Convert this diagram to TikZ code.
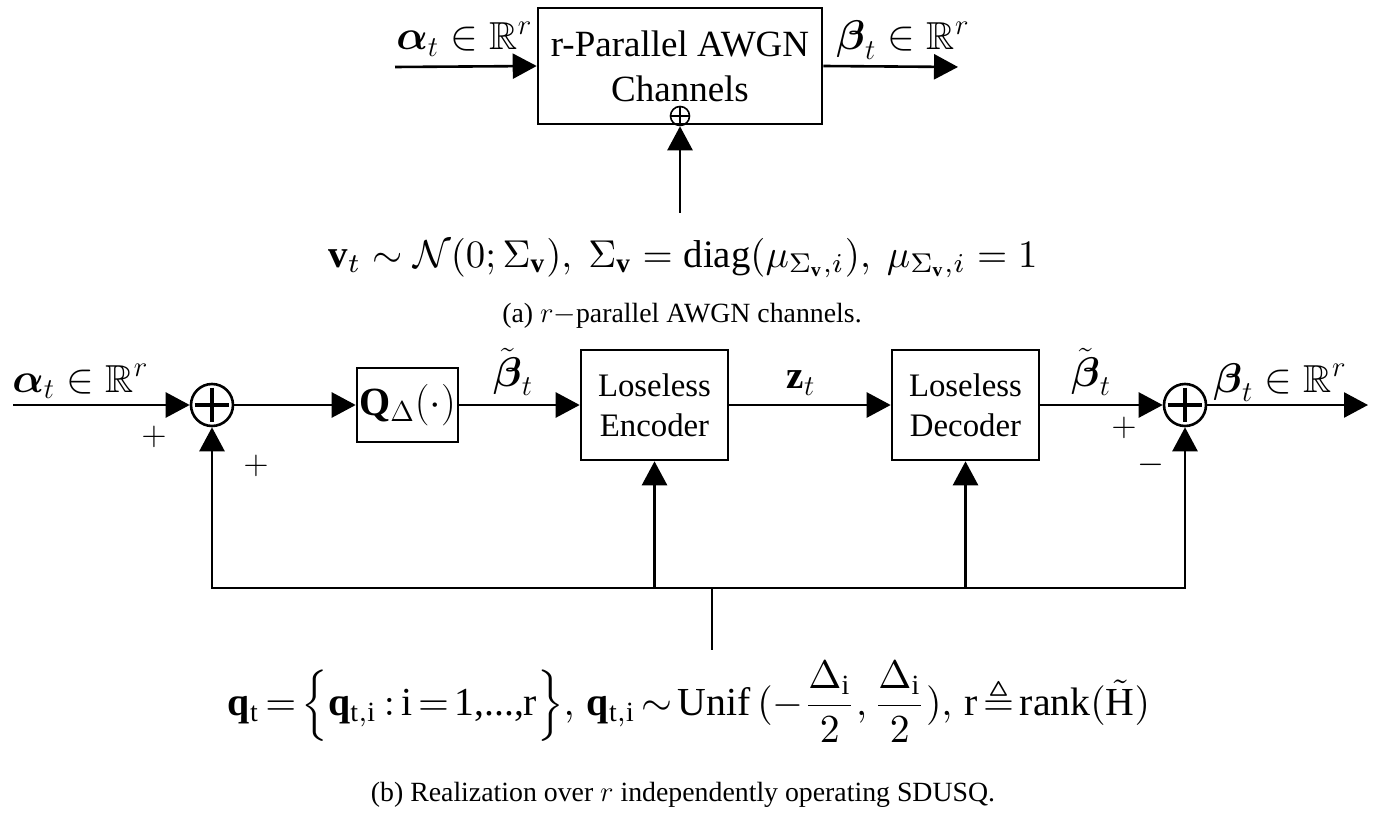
\documentclass[tikz,border=0pt]{standalone}
\usepackage{amsmath,amssymb}
\usepackage{graphicx}
\usepackage{fontspec}
\setmainfont{Liberation Serif}
\usetikzlibrary{arrows.meta}
\begin{document}
\begin{tikzpicture}[x=0.5pt,y=-0.5pt,
  line width=1.3pt,
  arr/.style={-{Triangle[length=12pt,width=12.5pt]}},
  blk/.style={draw,line width=1.3pt,inner sep=0pt,align=center,font=\fontsize{16.4}{20}\selectfont},
  sumc/.style={draw,circle,line width=1.3pt,minimum size=21pt,inner sep=0pt},
  lbl/.style={inner sep=0pt,font=\fontsize{19.5}{23}\selectfont},
  sgn/.style={inner sep=0pt,font=\fontsize{17}{20}\selectfont},
  captxt/.style={inner sep=0pt,font=\fontsize{13.9}{16}\selectfont}]
\useasboundingbox (0,0) rectangle (1374,818);
% ---------- (a) ----------
\node[blk,minimum width=142pt,minimum height=58pt,font=\fontsize{18.5}{22.5}\selectfont] (ch) at (680,66) {r-Parallel AWGN\\Channels};
\node[draw,circle,minimum size=9.5pt,inner sep=0pt,line width=0.8pt] (pl) at (680,116) {};
\draw[line width=0.8pt] (pl.north) -- (pl.south) (pl.west) -- (pl.east);
\coordinate (vtop) at (680,213);
\draw[arr] (vtop) -- (pl.south);
\coordinate (ain) at (395,67);
\coordinate (bout) at (958,67);
\draw[arr] (ain) -- (ch.west);
\draw[arr] (ch.east) -- (bout);
\node[lbl,anchor=base west] (la) at (395,50) {$\boldsymbol{\alpha}_t\in\mathbb{R}^r$};
\node[lbl,anchor=base west] (lb) at (835,50) {$\boldsymbol{\beta}_t\in\mathbb{R}^r$};
\node[inner sep=0pt] (fa) at (683,258) {\resizebox{354.5pt}{!}{$\mathbf{v}_t\sim\mathcal{N}(0;\Sigma_{\mathbf v}),\ \Sigma_{\mathbf v}=\mathrm{diag}(\mu_{\Sigma_{\mathbf v},i}),\ \mu_{\Sigma_{\mathbf v},i}=1$}};
\node[captxt] (ca) at (682,316) {(a) $r-$parallel AWGN channels.};
% ---------- (b) ----------
\coordinate (in) at (13,405);
\coordinate (out) at (1368,405);
\node[sumc] (s1) at (212,405) {};
\node[sumc] (s2) at (1185,405) {};
\draw[line width=1.7pt,shorten >=2.5pt,shorten <=2.5pt] (s1.north) -- (s1.south);
\draw[line width=1.7pt,shorten >=2.5pt,shorten <=2.5pt] (s1.west) -- (s1.east);
\draw[line width=1.7pt,shorten >=2.5pt,shorten <=2.5pt] (s2.north) -- (s2.south);
\draw[line width=1.7pt,shorten >=2.5pt,shorten <=2.5pt] (s2.west) -- (s2.east);
\node[blk,minimum width=50.5pt,minimum height=37pt,font=\fontsize{20}{24}\selectfont] (q) at (407.5,405) {$\mathbf{Q}_{\Delta}(\cdot)$};
\node[blk,minimum width=73.5pt,minimum height=55pt] (enc) at (654.5,405) {Loseless\\Encoder};
\node[blk,minimum width=73.5pt,minimum height=55pt] (dec) at (965.5,405) {Loseless\\Decoder};
\draw[arr] (in) -- (s1);
\draw[arr] (s1) -- (q);
\draw[arr] (q) -- (enc);
\draw[arr] (enc) -- (dec);
\draw[arr] (dec) -- (s2);
\draw[arr] (s2) -- (out);
\coordinate (fbE) at (654.5,588);
\coordinate (fbD) at (965.5,588);
\coordinate (stT) at (712,588);
\coordinate (stB) at (712,650);
\draw[arr] (stT) -| (s1);
\draw[arr] (stT) -| (s2);
\draw[arr] (fbE) -- (enc);
\draw[arr] (fbD) -- (dec);
\draw[line width=1pt] (stT) -- (stB);
\node[lbl,anchor=base west] (la2) at (11,392) {$\boldsymbol{\alpha}_t\in\mathbb{R}^r$};
\node[lbl] (bt1) at (513,372) {$\tilde{\boldsymbol{\beta}}_t$};
\node[lbl] (lz) at (801,383) {$\mathbf{z}_t$};
\node[lbl] (bt2) at (1091,372) {$\tilde{\boldsymbol{\beta}}_t$};
\node[lbl,anchor=base west] (lb2) at (1212,392) {$\boldsymbol{\beta}_t\in\mathbb{R}^r$};
\node[sgn] (p1) at (154,437) {$+$};
\node[sgn] (p2) at (256,466) {$+$};
\node[sgn] (p3) at (1124,428) {$+$};
\node[sgn] (m1) at (1151,465) {$-$};
\node[inner sep=0pt] (fb) at (689,702) {\resizebox{461pt}{!}{\thickmuskip=2.5mu plus 1mu\medmuskip=2mu$\mathbf{q}_{\mathrm t}=\Big\{\mathbf{q}_{\mathrm{t,i}}\,{:}\,\mathrm{i}=\text{1,...,r}\Big\},\;\mathbf{q}_{\mathrm{t,i}}\sim\mathrm{Unif}\,(-\dfrac{\Delta_{\mathrm i}}{2},\dfrac{\Delta_{\mathrm i}}{2}),\;\mathrm{r}\triangleq\mathrm{rank}(\tilde{\mathrm{H}})$}};
\node[captxt] (cb) at (683,795) {(b) Realization over $r$ independently operating SDUSQ.};
\end{tikzpicture}
\end{document}
